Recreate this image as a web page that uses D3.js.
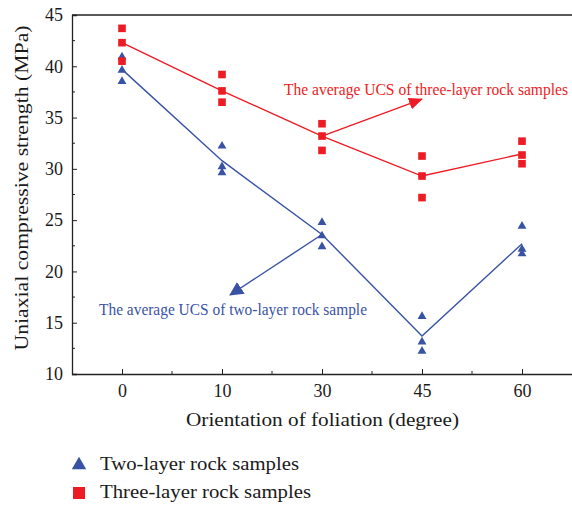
<!DOCTYPE html>
<html>
<head>
<meta charset="utf-8">
<script src="https://cdn.jsdelivr.net/npm/d3@7/dist/d3.min.js"></script>
<style>
  html, body { margin: 0; padding: 0; background: #fff; }
  svg { display: block; }
  text { font-family: "Liberation Serif", "Times New Roman", serif; }
</style>
</head>
<body>
<svg id="chart" width="572" height="506"></svg>
<script>
// Foliation orientation categories (degrees)
const categories = ["0", "10", "30", "45", "60"];

// Individual UCS results (MPa), three specimens per orientation
const twoLayerSamples = [
  [41.0, 39.7, 38.6],
  [32.3, 30.3, 29.7],
  [24.85, 23.55, 22.5],
  [15.7, 13.2, 12.3],
  [24.5, 22.25, 21.8]
];
const threeLayerSamples = [
  [43.7, 42.3, 40.5],
  [39.2, 37.6, 36.5],
  [34.4, 33.2, 31.8],
  [31.25, 29.3, 27.2],
  [32.7, 31.35, 30.5]
];

// Average UCS per orientation (MPa)
const twoLayerMean = [39.7, 30.8, 23.6, 13.7, 22.7];
const threeLayerMean = [42.3, 37.6, 33.2, 29.3, 31.45];

const yTicks = [10, 15, 20, 25, 30, 35, 40, 45];

const blue = "#3953a4";
const red = "#ed1c24";
const ink = "#1a1a1a";

const svg = d3.select("#chart");
const mLeft = 72, mRight = 572, mTop = 15, mBottom = 374;

const x = d3.scalePoint().domain(categories).range([mLeft, mRight]).padding(0.5);
const y = d3.scaleLinear().domain([10, 45]).range([mBottom, mTop]);

// Helper: text stretched to a set width
function wideText(sel, len) {
  return sel.attr("textLength", len).attr("lengthAdjust", "spacingAndGlyphs");
}

// Frame: top line (left and bottom come from the axes)
svg.append("line").attr("x1", mLeft).attr("x2", mRight).attr("y1", mTop).attr("y2", mTop)
  .attr("stroke", "#222").attr("stroke-width", 1.3);

// Y axis with inward ticks
const yAxis = svg.append("g").attr("transform", `translate(${mLeft},0)`)
  .call(d3.axisLeft(y).tickValues(yTicks).tickSize(-5).tickPadding(9));
yAxis.selectAll(".tick text").attr("font-size", 18).attr("fill", ink)
  .attr("font-family", "Liberation Serif, serif");
// minor y ticks
svg.append("g").selectAll("line").data(d3.range(12.5, 45, 5)).join("line")
  .attr("x1", mLeft).attr("x2", mLeft + 3)
  .attr("y1", d => y(d)).attr("y2", d => y(d)).attr("stroke", "#222");

// X axis with inward ticks
const xAxis = svg.append("g").attr("transform", `translate(0,${mBottom})`)
  .call(d3.axisBottom(x).tickSize(-5).tickPadding(10).tickSizeOuter(0));
xAxis.select(".domain").attr("d", `M${mLeft},0.5H${mRight}`);
xAxis.selectAll(".tick text").attr("font-size", 18).attr("fill", ink)
  .attr("font-family", "Liberation Serif, serif");
// minor x ticks between categories
const mids = d3.range(categories.length - 1).map(i => (x(categories[i]) + x(categories[i + 1])) / 2);
svg.append("g").selectAll("line").data(mids).join("line")
  .attr("x1", d => d).attr("x2", d => d)
  .attr("y1", mBottom).attr("y2", mBottom - 3).attr("stroke", "#222");

[yAxis, xAxis].forEach(a => {
  a.select(".domain").attr("stroke", "#222").attr("stroke-width", 1.3);
  a.selectAll(".tick line").attr("stroke", "#222");
});

// Axis titles
wideText(svg.append("text")
  .attr("transform", `translate(28,188) rotate(-90)`)
  .attr("text-anchor", "middle").attr("font-size", 18).attr("fill", ink)
  .text("Uniaxial compressive strength (MPa)"), 325);
wideText(svg.append("text")
  .attr("x", 322.5).attr("y", 426)
  .attr("text-anchor", "middle").attr("font-size", 18).attr("fill", ink)
  .text("Orientation of foliation (degree)"), 273);

// Average lines
const line = d3.line().x((d, i) => x(categories[i])).y(d => y(d));
svg.append("path").datum(threeLayerMean).attr("d", line)
  .attr("fill", "none").attr("stroke", red).attr("stroke-width", 1.4);
svg.append("path").datum(twoLayerMean).attr("d", line)
  .attr("fill", "none").attr("stroke", blue).attr("stroke-width", 1.4);

// Sample markers
const flat = (arr) => arr.flatMap((vals, i) => vals.map(v => ({ c: categories[i], v })));
const tri = d3.symbol().type(d3.symbolTriangle).size(34);
svg.append("g").selectAll("path").data(flat(twoLayerSamples)).join("path")
  .attr("d", tri).attr("transform", d => `translate(${x(d.c)},${y(d.v) + 0.8})`)
  .attr("fill", blue);
svg.append("g").selectAll("rect").data(flat(threeLayerSamples)).join("rect")
  .attr("x", d => x(d.c) - 3.8).attr("y", d => y(d.v) - 3.8)
  .attr("width", 7.6).attr("height", 7.6).attr("fill", red);

// Annotation arrows
const defs = svg.append("defs");
defs.append("marker").attr("id", "headRed")
  .attr("markerUnits", "userSpaceOnUse").attr("viewBox", "0 0 14 12")
  .attr("refX", 13).attr("refY", 6).attr("markerWidth", 14).attr("markerHeight", 12)
  .attr("orient", "auto")
  .append("path").attr("d", "M0,0L14,6L0,12Z").attr("fill", red);
defs.append("marker").attr("id", "headBlue")
  .attr("markerUnits", "userSpaceOnUse").attr("viewBox", "0 0 14 14")
  .attr("refX", 13).attr("refY", 7).attr("markerWidth", 14).attr("markerHeight", 14)
  .attr("orient", "auto")
  .append("path").attr("d", "M0,0L14,7L0,14Z").attr("fill", blue);

const xi = (pos) => x(categories[0]) + pos * x.step();

svg.append("line")
  .attr("x1", x("30")).attr("y1", y(threeLayerMean[2]))
  .attr("x2", xi(3.0)).attr("y2", y(36.8))
  .attr("stroke", red).attr("stroke-width", 1.4).attr("marker-end", "url(#headRed)");
svg.append("line")
  .attr("x1", x("30")).attr("y1", y(twoLayerMean[2]))
  .attr("x2", xi(1.08)).attr("y2", y(17.7))
  .attr("stroke", blue).attr("stroke-width", 1.4).attr("marker-end", "url(#headBlue)");

wideText(svg.append("text").attr("x", 284).attr("y", 95)
  .attr("font-size", 16).attr("fill", red)
  .text("The average UCS of three-layer rock samples"), 284);
wideText(svg.append("text").attr("x", 99).attr("y", 315)
  .attr("font-size", 16).attr("fill", blue)
  .text("The average UCS of two-layer rock sample"), 268);

// Legend
const legend = svg.append("g");
legend.append("path").attr("d", d3.symbol().type(d3.symbolTriangle).size(90))
  .attr("transform", "translate(79,465)").attr("fill", blue);
legend.append("rect").attr("x", 73).attr("y", 487).attr("width", 12).attr("height", 12).attr("fill", red);
wideText(legend.append("text").attr("x", 100).attr("y", 470).attr("font-size", 18).attr("fill", ink)
  .text("Two-layer rock samples"), 199);
wideText(legend.append("text").attr("x", 100).attr("y", 498).attr("font-size", 18).attr("fill", ink)
  .text("Three-layer rock samples"), 211);
</script>
</body>
</html>
